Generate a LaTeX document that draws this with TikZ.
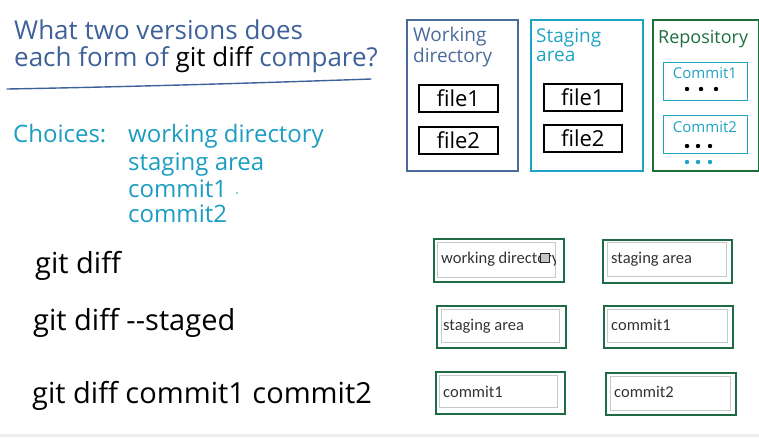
\documentclass[tikz,border=0pt]{standalone}
\usepackage{fontspec}
\setmainfont{Open Sans}
\newfontfamily\uifont{Carlito}
\definecolor{titleblue}{HTML}{3F6199}
\definecolor{chteal}{HTML}{1B9DC2}
\definecolor{wdblue}{HTML}{4A6A9A}
\definecolor{stteal}{HTML}{1FA3C4}
\definecolor{repogreen}{HTML}{1E6E3C}
\definecolor{ansgreen}{HTML}{1E6B45}
\definecolor{ansgray}{HTML}{C8C8C8}
\definecolor{anstext}{HTML}{333333}
\definecolor{bottomgray}{HTML}{EFEFEF}
\tikzset{
  txt/.style={inner sep=0pt, anchor=base west, font=\fontsize{#1}{#1}\selectfont},
  panel/.style={draw, line width=1.6pt, anchor=north west, inner sep=0pt},
  filebox/.style={draw=black, line width=1.6pt, anchor=north west, inner sep=0pt,
    minimum height=27pt, font=\fontsize{22}{22}\selectfont},
  commitbox/.style={draw=stteal, line width=1.4pt, anchor=north west, inner sep=0pt,
    minimum width=84pt, minimum height=38pt},
  ansout/.style={draw=ansgreen, line width=2pt, anchor=north west, inner sep=0pt},
  ansin/.style={draw=ansgray, line width=1pt, anchor=north west, inner sep=0pt},
  anstxt/.style={inner sep=0pt, anchor=base west, text=anstext,
    font=\uifont\fontsize{16.5}{16.5}\selectfont},
  dotb/.style={circle, fill=black, inner sep=0pt, minimum size=4.4pt},
  dott/.style={circle, fill=stteal, inner sep=0pt, minimum size=4.4pt},
}
\begin{document}
\begin{tikzpicture}[x=1pt,y=-1pt]
\useasboundingbox (0,0) rectangle (759,437);
\fill[bottomgray] (0,434) rectangle (759,437);

% title
\node[txt=26, text=titleblue] (t1) at (14,39) {What two versions does};
\node[txt=26, text=titleblue] (t2) at (14,66) {each form of {\color{black}git diff} compare?};
\draw[titleblue, line width=1.4pt, line cap=round] (7,89) .. controls (120,87) and (260,83) .. (371,79);

% choices
\node[txt=24, text=chteal] (ch) at (13,142) {Choices:};
\node[txt=24, text=chteal] (c1) at (128,142) {working directory};
\node[txt=24, text=chteal] (c2) at (128,170) {staging area};
\node[txt=24, text=chteal] (c3) at (128,197) {commit1};
\node[circle, fill=chteal, inner sep=0pt, minimum size=1.6pt] (c3dot) at (237,193) {};
\node[txt=24, text=chteal] (c4) at (128,222) {commit2};

% panels
\node[panel, draw=wdblue, minimum width=111pt, minimum height=151pt] (wd) at (406,19) {};
\node[panel, draw=stteal, minimum width=112pt, minimum height=151pt] (st) at (530,19) {};
\node[panel, draw=repogreen, minimum width=106pt, minimum height=151pt] (repo) at (652,19) {};

\node[txt=19, text=wdblue] (wdl1) at (413,41) {Working};
\node[txt=19, text=wdblue] (wdl2) at (413,62) {directory};
\node[txt=19, text=stteal] (stl1) at (536,42) {Staging};
\node[txt=19, text=stteal] (stl2) at (536,61) {area};
\node[txt=18, text=repogreen] (repol) at (658,43) {Repository};

\node[filebox, minimum width=79pt] (wdf1) at (418,84) {file1};
\node[filebox, minimum width=79pt] (wdf2) at (418,126) {file2};
\node[filebox, minimum width=78pt] (stf1) at (543,83) {file1};
\node[filebox, minimum width=78pt] (stf2) at (543,124) {file2};

\node[commitbox] (cm1) at (663,62) {};
\node[inner sep=0pt, text=stteal, font=\fontsize{15}{15}\selectfont] (cm1l) at (705,73) {Commit1};
\node[dotb] (d11) at (687,89) {};
\node[dotb] (d12) at (701,89) {};
\node[dotb] (d13) at (716,89) {};
\node[commitbox] (cm2) at (663,115) {};
\node[inner sep=0pt, text=stteal, font=\fontsize{15}{15}\selectfont] (cm2l) at (705,127) {Commit2};
\node[dotb] (d21) at (687,146) {};
\node[dotb] (d22) at (698,146) {};
\node[dotb] (d23) at (710,146) {};
\node[dott] (d31) at (687,162) {};
\node[dott] (d32) at (698,162) {};
\node[dott] (d33) at (710,162) {};

% commands
\node[txt=29] (g1) at (35,273) {git diff};
\node[txt=29] (g2) at (33,330) {git diff -{}-staged};
\node[txt=29] (g3) at (32,403) {git diff commit1 commit2};

% answer boxes
\node[ansout, minimum width=130pt, minimum height=43pt] (a1o) at (433,238) {};
\node[ansin, minimum width=118pt, minimum height=35pt] (a1i) at (437,242) {};
\begin{scope}
  \clip (437,242) rectangle (555,277);
  \node[anstxt] (a1t) at (441,263) {working directory};
\end{scope}
\node[draw=black!85, line width=1pt, fill=gray!45, minimum size=9pt, inner sep=0pt] (a1icon) at (545,258) {};

\node[ansout, minimum width=129pt, minimum height=43pt] (a2o) at (602,239) {};
\node[ansin, minimum width=119pt, minimum height=34pt] (a2i) at (607,242) {};
\node[anstxt] (a2t) at (611,263) {staging area};

\node[ansout, minimum width=129pt, minimum height=42pt] (b1o) at (436,305) {};
\node[ansin, minimum width=118pt, minimum height=33pt] (b1i) at (441,309) {};
\node[anstxt] (b1t) at (443,330) {staging area};

\node[ansout, minimum width=129pt, minimum height=42pt] (b2o) at (603,305) {};
\node[ansin, minimum width=120pt, minimum height=33pt] (b2i) at (607,309) {};
\node[anstxt] (b2t) at (611,330) {commit1};

\node[ansout, minimum width=129pt, minimum height=42pt] (c1o) at (435,371) {};
\node[ansin, minimum width=118pt, minimum height=32pt] (c1i) at (439,375) {};
\node[anstxt] (c1t) at (443,397) {commit1};

\node[ansout, minimum width=130pt, minimum height=42pt] (c2o) at (605,372) {};
\node[ansin, minimum width=120pt, minimum height=34pt] (c2i) at (610,376) {};
\node[anstxt] (c2t) at (614,397) {commit2};
\end{tikzpicture}
\end{document}
